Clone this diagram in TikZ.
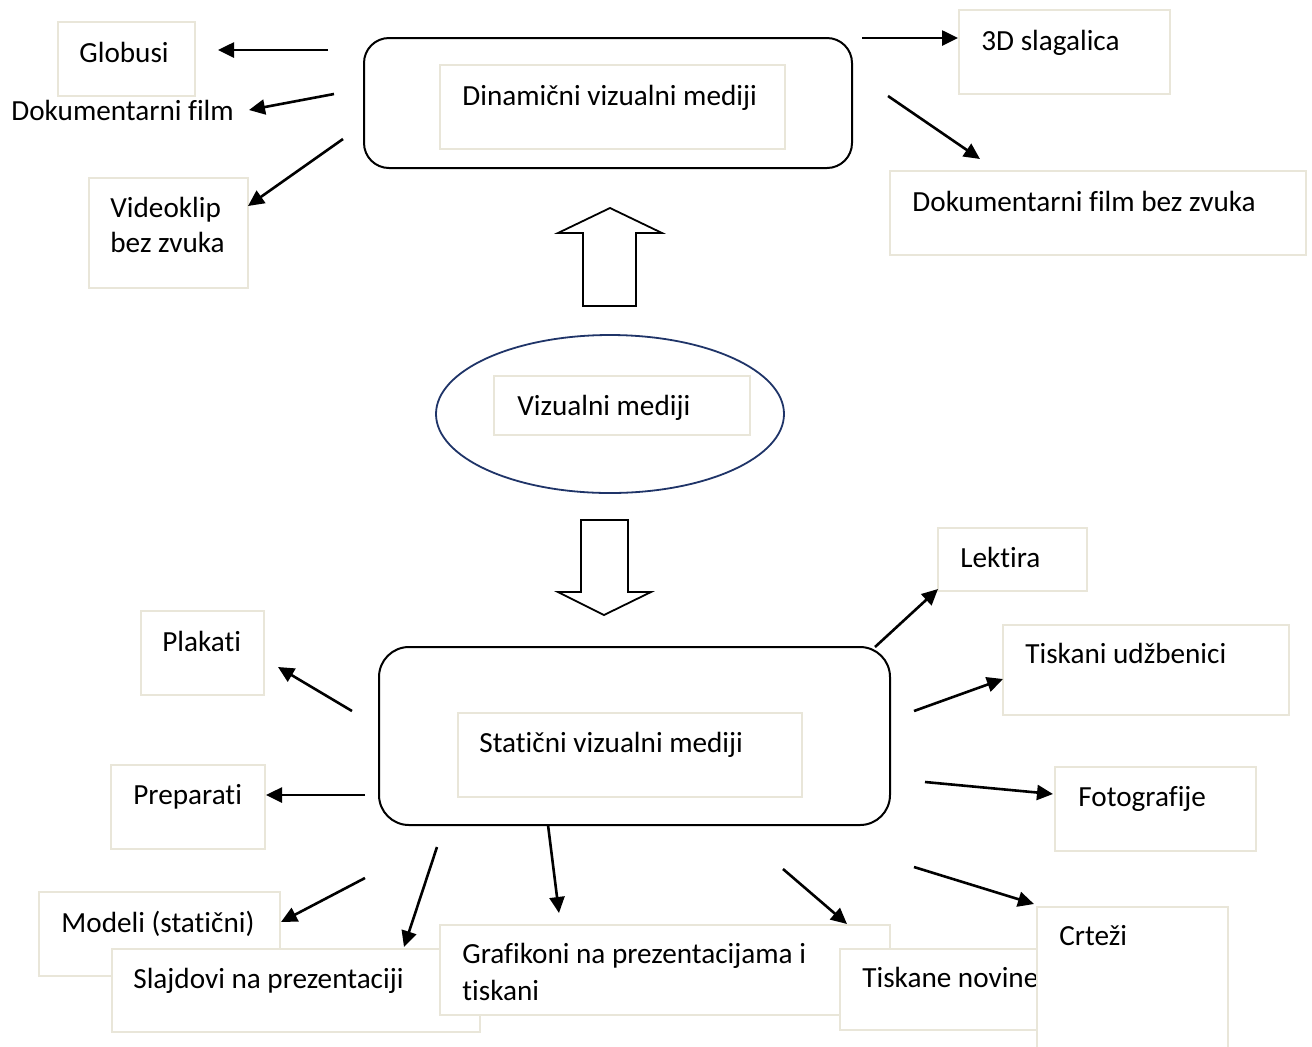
\documentclass[tikz,border=0pt]{standalone}
\usepackage{fontspec}
\setmainfont[Ligatures=NoCommon]{Carlito}
\usetikzlibrary{arrows.meta,shapes.geometric,fit}
\definecolor{boxc}{HTML}{E9E6D9}
\definecolor{navy}{HTML}{1F3468}
\tikzset{
  tbox/.style={draw=boxc, line width=0.8pt, fill=white, inner sep=0pt},
  lbl/.style={anchor=base west, inner sep=0pt, font=\fontsize{14.6pt}{18pt}\selectfont},
  rbox/.style={draw=black, line width=1pt, inner sep=0pt},
  conn/.style={line width=1.3pt, -{Triangle[length=8pt,width=7.5pt]}},
  blockarrow/.style={draw=black, line width=0.9pt, fill=white, line join=miter}
}
\begin{document}
\begin{tikzpicture}[x=0.5pt,y=-0.5pt]
\useasboundingbox (0,0) rectangle (1312,1046);
\fill[white] (0,0) rectangle (1312,1046);

% ---------- top part ----------
\node[rbox, rounded corners=12.5pt, fit={(364,38)(852,168)}] (dyn) {};
\node[tbox, fit={(440,65)(785,149)}] (dynIn) {};
\node[lbl] (dynT) at (462,105) {Dinamični vizualni mediji};

\node[tbox, fit={(58,22)(195,96)}] (globB) {};
\node[lbl] (globT) at (79,62) {Globusi};
\node[lbl] (dokT) at (11,120) {Dokumentarni film};
\node[tbox, fit={(89,178)(248,288)}] (vidB) {};
\node[lbl] (vidT1) at (110,217) {Videoklip};
\node[lbl] (vidT2) at (110,252) {bez zvuka};

\node[tbox, fit={(959,10)(1170,94)}] (slagB) {};
\node[lbl] (slagT) at (981,50) {3D slagalica};
\node[tbox, fit={(890,171)(1306,255)}] (dbzB) {};
\node[lbl] (dbzT) at (912,211) {Dokumentarni film bez zvuka};

\coordinate (a1s) at (328,50);  \coordinate (a1e) at (218,50);
\coordinate (a2s) at (334,94);  \coordinate (a2e) at (249,110);
\coordinate (a3s) at (343,139); \coordinate (a3e) at (248,206);
\coordinate (a4s) at (862,38);  \coordinate (a4e) at (958,38);
\coordinate (a5s) at (888,96);  \coordinate (a5e) at (980,159);
\draw[conn] (a1s) -- (a1e);
\draw[conn] (a2s) -- (a2e);
\draw[conn] (a3s) -- (a3e);
\draw[conn] (a4s) -- (a4e);
\draw[conn] (a5s) -- (a5e);

% ---------- block arrows ----------
\draw[blockarrow] (583,306) -- (583,233) -- (558,233) -- (610,208) -- (662,233) -- (636,233) -- (636,306) -- cycle;
\draw[blockarrow] (581,520) -- (628,520) -- (628,592) -- (651,592) -- (604,615) -- (558,592) -- (581,592) -- cycle;

% ---------- centre ----------
\node[ellipse, draw=navy, line width=0.9pt, minimum width=174pt, minimum height=79pt, inner sep=0pt] (viz) at (610,414) {};
\node[tbox, fit={(494,376)(750,435)}] (vizIn) {};
\node[lbl] (vizT) at (517,415) {Vizualni mediji};

% ---------- bottom part ----------
\node[rbox, rounded corners=15pt, fit={(379,647)(890,825)}] (stat) {};
\node[tbox, fit={(458,713)(802,797)}] (statIn) {};
\node[lbl] (statT) at (479,752) {Statični vizualni mediji};

\node[tbox, fit={(141,611)(264,695)}] (plakB) {};
\node[lbl] (plakT) at (162,651) {Plakati};
\node[tbox, fit={(111,765)(265,849)}] (prepB) {};
\node[lbl] (prepT) at (133,804) {Preparati};

\node[tbox, fit={(938,528)(1087,591)}] (lekB) {};
\node[lbl] (lekT) at (960,567) {Lektira};
\node[tbox, fit={(1003,625)(1289,715)}] (udzB) {};
\node[lbl] (udzT) at (1025,663) {Tiskani udžbenici};
\node[tbox, fit={(1055,767)(1256,851)}] (fotB) {};
\node[lbl] (fotT) at (1078,806) {Fotografije};

\node[tbox, fit={(39,892)(280,976)}] (modB) {};
\node[lbl] (modT) at (61,932) {Modeli (statični)};
\node[tbox, fit={(112,949)(480,1032)}] (slaB) {};
\node[lbl] (slaT) at (133,988) {Slajdovi na prezentaciji};
\node[tbox, fit={(440,925)(890,1015)}] (grafB) {};
\node[lbl] (grafT1) at (462,963) {Grafikoni na prezentacijama i};
\node[lbl] (grafT2) at (462,1000) {tiskani};
\node[tbox, fit={(840,949)(1100,1030)}] (novB) {};
\node[lbl] (novT) at (862,987) {Tiskane novine};
\node[tbox, fit={(1037,907)(1228,1070)}] (crtB) {};
\node[lbl] (crtT) at (1059,945) {Crteži};

\coordinate (b1s) at (875,647);  \coordinate (b1e) at (938,589);
\coordinate (b2s) at (914,711);  \coordinate (b2e) at (1003,679);
\coordinate (b3s) at (925,782);  \coordinate (b3e) at (1053,794);
\coordinate (b4s) at (914,867);  \coordinate (b4e) at (1034,904);
\coordinate (b5s) at (783,869);  \coordinate (b5e) at (847,924);
\coordinate (b6s) at (548,825);  \coordinate (b6e) at (559,913);
\coordinate (b7s) at (437,847);  \coordinate (b7e) at (404,947);
\coordinate (b8s) at (365,878);  \coordinate (b8e) at (281,922);
\coordinate (b9s) at (365,795);  \coordinate (b9e) at (266,795);
\coordinate (b10s) at (352,711); \coordinate (b10e) at (278,667);
\draw[conn] (b1s) -- (b1e);
\draw[conn] (b2s) -- (b2e);
\draw[conn] (b3s) -- (b3e);
\draw[conn] (b4s) -- (b4e);
\draw[conn] (b5s) -- (b5e);
\draw[conn] (b6s) -- (b6e);
\draw[conn] (b7s) -- (b7e);
\draw[conn] (b8s) -- (b8e);
\draw[conn] (b9s) -- (b9e);
\draw[conn] (b10s) -- (b10e);
\end{tikzpicture}
\end{document}
